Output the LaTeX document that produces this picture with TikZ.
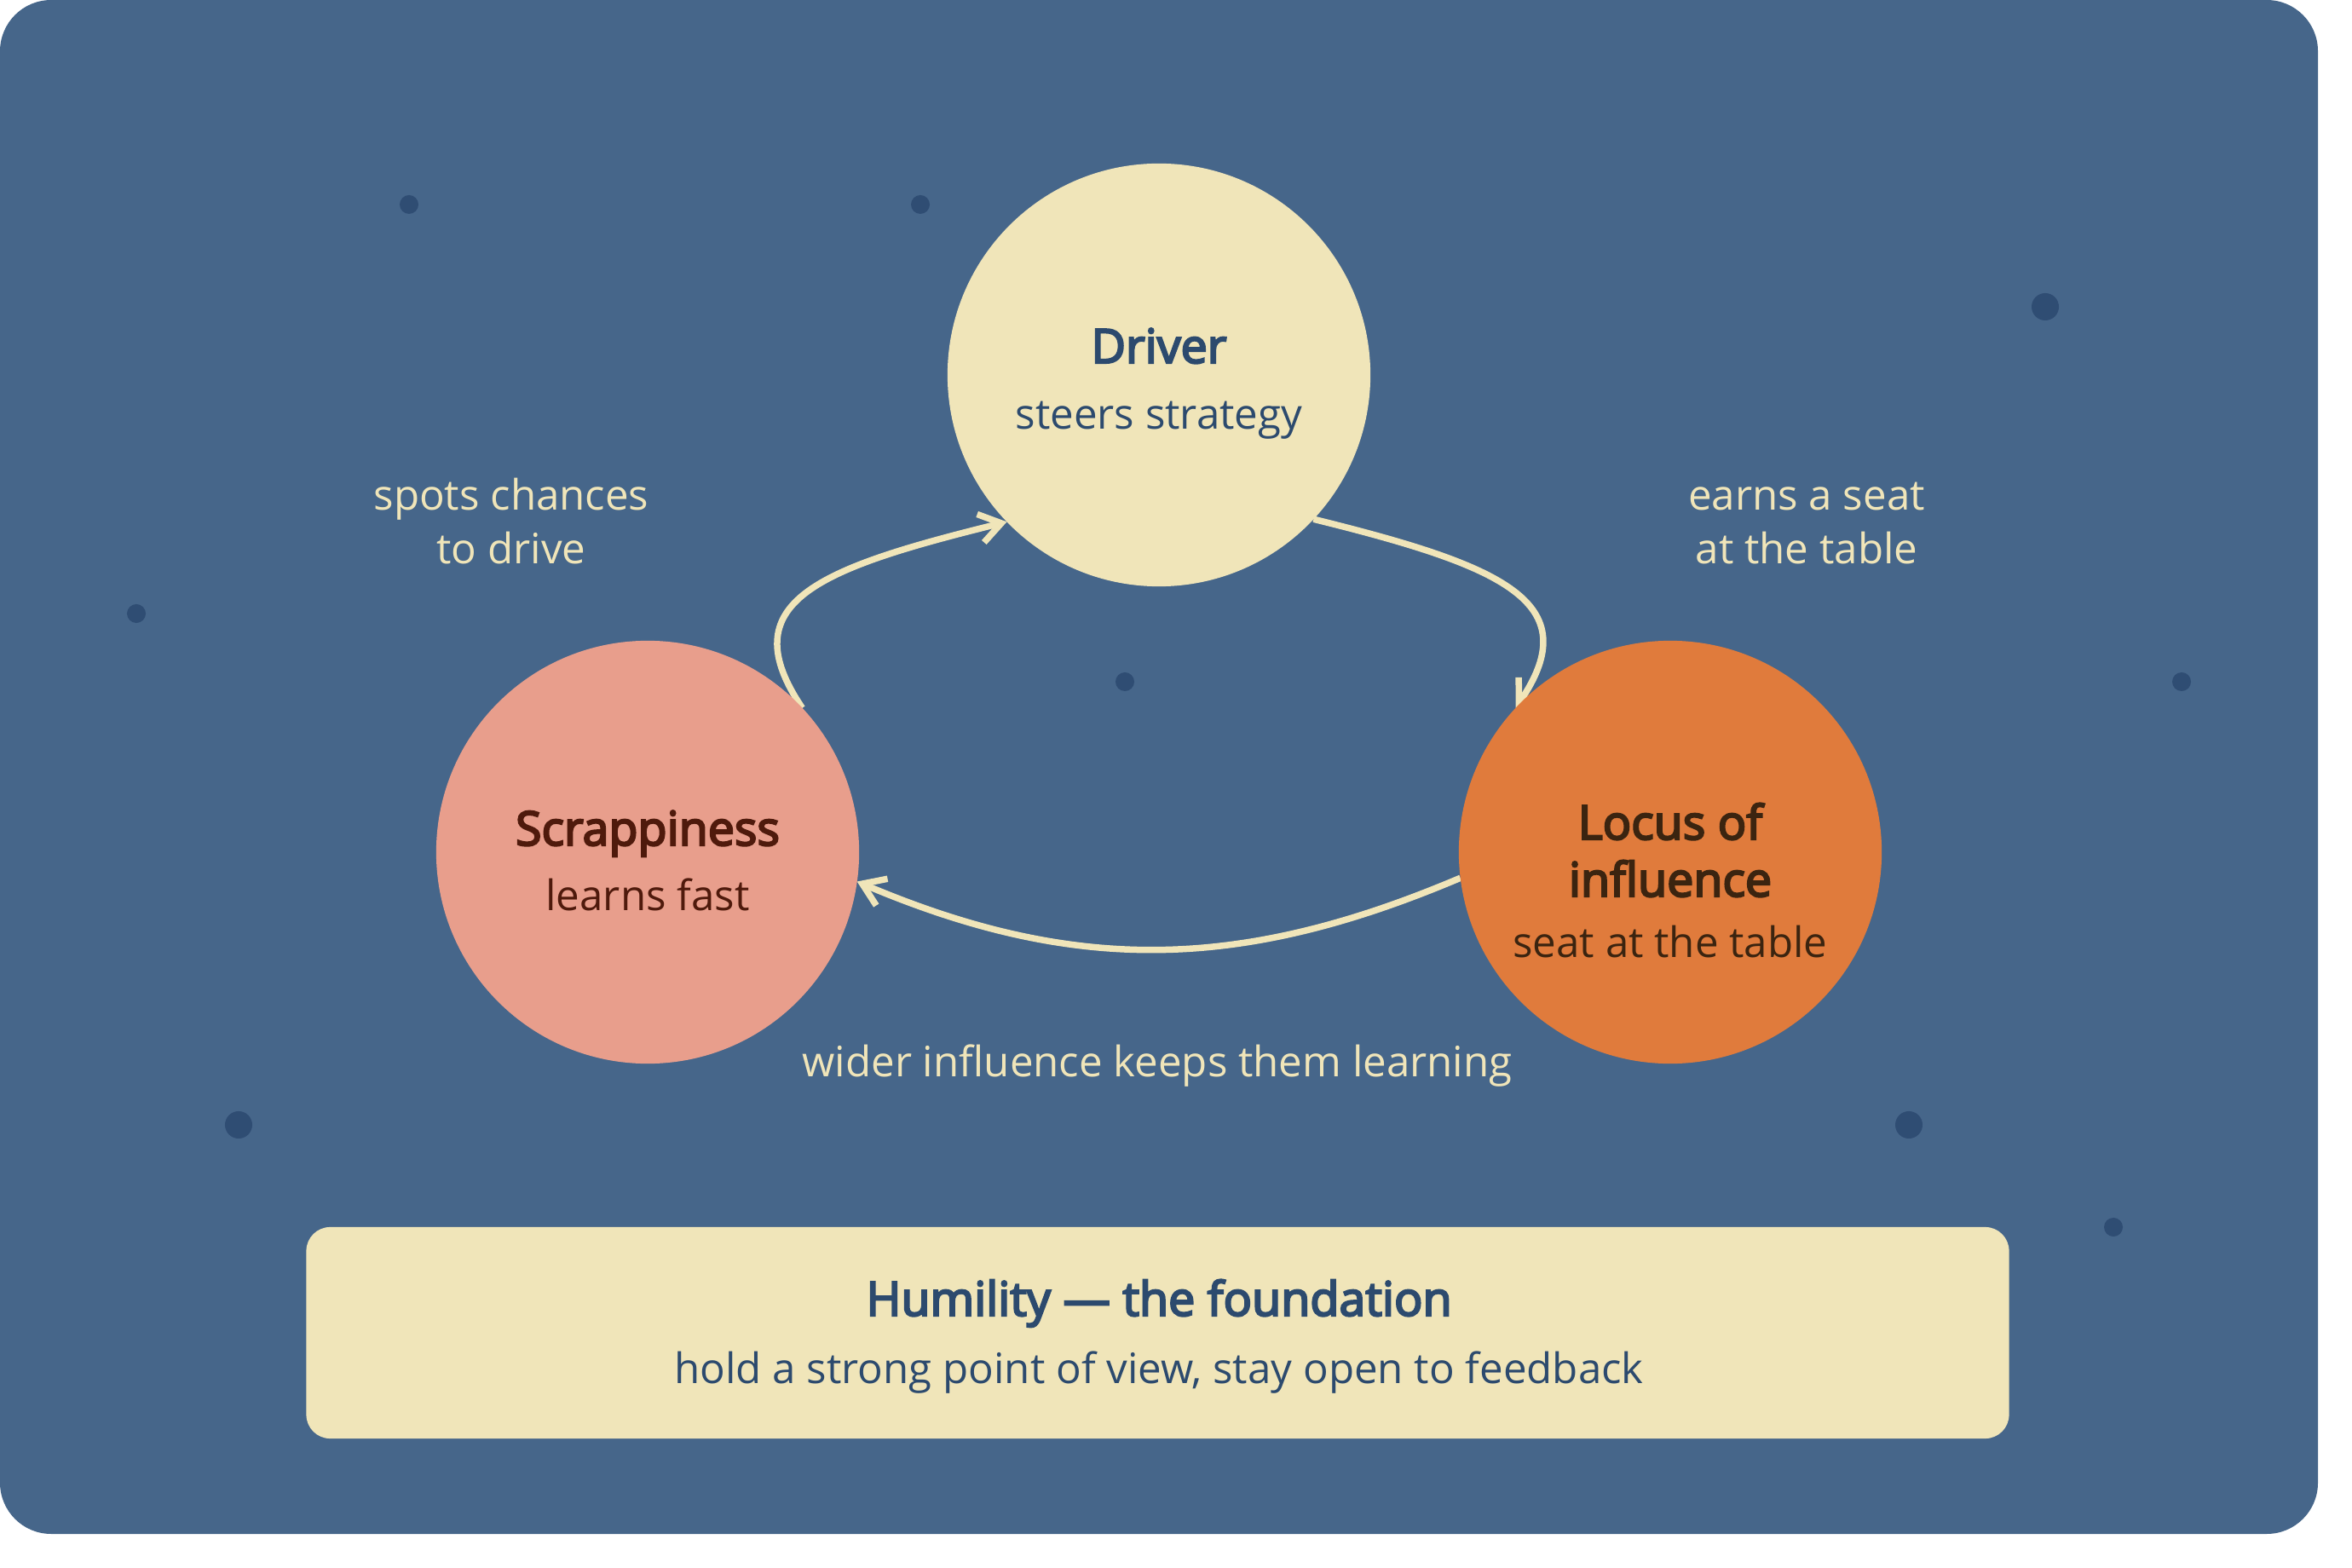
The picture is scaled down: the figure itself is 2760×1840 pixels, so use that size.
\documentclass[tikz,border=0pt]{standalone}
\usepackage{fontspec}
\setmainfont{Open Sans}
\newfontfamily\semib{Open Sans}[FakeBold=4]
\usetikzlibrary{arrows.meta}
\definecolor{bgc}{HTML}{46668A}
\definecolor{cream}{HTML}{F0E5B9}
\definecolor{dotc}{HTML}{2F4D73}
\definecolor{navy}{HTML}{2C4A6E}
\definecolor{scrapfill}{HTML}{E89E8C}
\definecolor{scraptext}{HTML}{4F1A0C}
\definecolor{locusfill}{HTML}{E07B3C}
\definecolor{locustext}{HTML}{3B2410}
\pgfdeclarelayer{back}
\pgfdeclarelayer{mid}
\pgfsetlayers{back,mid,main}
\begin{document}
\begin{tikzpicture}[x=0.01cm,y=-0.01cm,
  circ/.style={circle,minimum size=4.96cm,inner sep=0pt,outer sep=0pt},
  dotsm/.style={circle,fill=dotc,inner sep=0pt,outer sep=0pt,minimum size=0.22cm},
  dotlg/.style={circle,fill=dotc,inner sep=0pt,outer sep=0pt,minimum size=0.32cm},
  flow/.style={draw=cream,line width=0.075cm,-{Straight Barb[length=0.25cm,width=0.34cm]}},
  ttl/.style={font=\semib\fontsize{15.8}{20}\selectfont,anchor=base,inner sep=0pt},
  sub/.style={font=\fontsize{14}{17}\selectfont,anchor=base,inner sep=0pt},
  lbl/.style={sub,text=cream}]
\useasboundingbox (0,0) rectangle (2760,1840);
\begin{pgfonlayer}{back}
\fill[bgc,rounded corners=0.6cm] (0,0) rectangle (2720,1800);
\node[dotsm] (d1) at (480,240) {};
\node[dotsm] (d2) at (1080,240) {};
\node[dotlg] (d3) at (2400,360) {};
\node[dotsm] (d4) at (160,720) {};
\node[dotsm] (d5) at (1320,800) {};
\node[dotsm] (d6) at (2560,800) {};
\node[dotlg] (d7) at (280,1320) {};
\node[dotlg] (d8) at (2240,1320) {};
\node[dotsm] (d9) at (2480,1440) {};
\end{pgfonlayer}

\node[circ,fill=cream] (D) at (1360,440) {};
\node[circ,fill=scrapfill] (S) at (760,1000) {};
\node[circ,fill=locusfill] (L) at (1960,1000) {};

\node[ttl,text=navy] (dt) at (1360,426) {Driver};
\node[sub,text=navy] (ds) at (1360,504) {steers strategy};
\node[ttl,text=scraptext] (st) at (760,992) {Scrappiness};
\node[sub,text=scraptext] (ss) at (760,1068) {learns fast};
\node[ttl,text=locustext] (lt1) at (1960,985) {Locus of};
\node[ttl,text=locustext] (lt2) at (1960,1052) {influence};
\node[sub,text=locustext] (ls) at (1960,1123) {seat at the table};

\begin{pgfonlayer}{mid}
\draw[flow] (S.43) .. controls +(-84,-124) and +(-223,55) .. (D.224);
\draw[flow] (D.-43) .. controls +(223,55) and +(84,-124) .. (L.137);
\draw[flow] (L.187) .. controls +(-257,109) and +(257,109) .. (S.-8);
\end{pgfonlayer}

\node[lbl] (l1a) at (600,599) {spots chances};
\node[lbl] (l1b) at (600,662) {to drive};
\node[lbl] (l2a) at (2120,599) {earns a seat};
\node[lbl] (l2b) at (2120,662) {at the table};
\node[lbl] (l3) at (1358,1263) {wider influence keeps them learning};

\node[fill=cream,rounded corners=0.28cm,minimum width=19.97cm,minimum height=2.48cm,inner sep=0pt] (box) at (1358.5,1564) {};
\node[ttl,text=navy] (bt) at (1360,1544) {Humility — the foundation};
\node[sub,text=navy] (bs) at (1360,1623) {hold a strong point of view, stay open to feedback};
\end{tikzpicture}
\end{document}
